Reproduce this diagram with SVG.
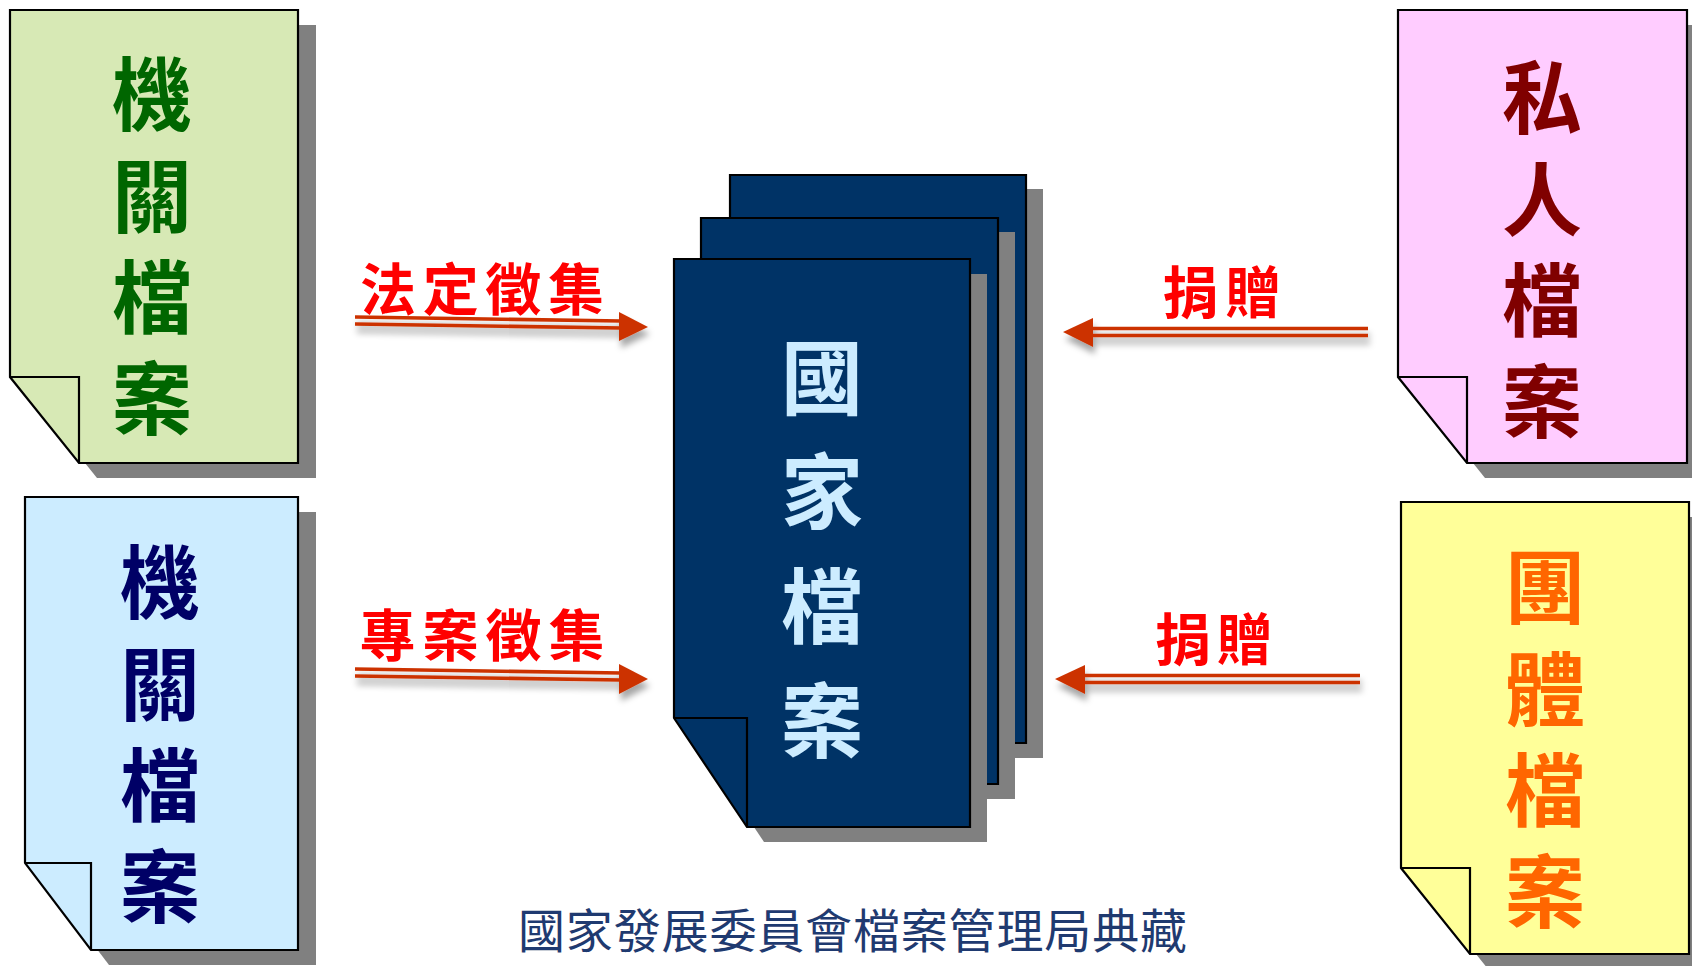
<svg xmlns="http://www.w3.org/2000/svg" width="1692" height="966" viewBox="0 0 1692 966">
<defs>
<filter id="ash" x="-10%" y="-50%" width="120%" height="250%">
<feDropShadow dx="2" dy="7" stdDeviation="3" flood-color="#000" flood-opacity="0.35"/>
</filter>
<style>
.page{stroke:#000;stroke-width:2.2;stroke-linejoin:miter}
.flap{fill:none;stroke:#000;stroke-width:2.2}
.shadow{fill:#808080}
.big{font-family:"Noto Sans CJK TC","Noto Sans CJK SC",sans-serif;font-weight:700;font-size:80px;writing-mode:vertical-rl;text-anchor:start;dominant-baseline:central;letter-spacing:21.3px}
.lbl{font-family:"Noto Sans CJK TC","Noto Sans CJK SC",sans-serif;font-weight:700;font-size:56px;fill:#FF0000;text-anchor:middle;dominant-baseline:central}
.line{stroke:#CC3300;stroke-width:3.6;fill:none}
.head{fill:#CC3300}
.cap{font-family:"Noto Sans CJK TC","Noto Sans CJK SC",sans-serif;font-size:47px;fill:#1F3A70;dominant-baseline:central}
</style>
</defs>
<rect width="1692" height="966" fill="#fff"/>

<!-- top-left node -->
<g id="node-gov-archives-green">
<path class="shadow" d="M28,25 L316,25 L316,478 L97,478 L28,392 Z"/>
<path class="page" fill="#D7E9B5" d="M10,10 L298,10 L298,463 L79,463 L10,377 Z"/>
<path class="flap" d="M10,377 L79,377 L79,463"/>
<text class="big" fill="#006600" x="152" y="54">機關檔案</text>
</g>

<!-- bottom-left node -->
<g id="node-gov-archives-blue">
<path class="shadow" d="M43,512 L316,512 L316,965 L109,965 L43,878 Z"/>
<path class="page" fill="#CCECFF" d="M25,497 L298,497 L298,950 L91,950 L25,863 Z"/>
<path class="flap" d="M25,863 L91,863 L91,950"/>
<text class="big" fill="#000066" x="160" y="542">機關檔案</text>
</g>

<!-- top-right node -->
<g id="node-private-archives">
<path class="shadow" d="M1416,25 L1705,25 L1705,478 L1485,478 L1416,392 Z"/>
<path class="page" fill="#FFCCFF" d="M1398,10 L1687,10 L1687,463 L1467,463 L1398,377 Z"/>
<path class="flap" d="M1398,377 L1467,377 L1467,463"/>
<text class="big" fill="#800000" x="1542" y="57">私人檔案</text>
</g>

<!-- bottom-right node -->
<g id="node-group-archives">
<path class="shadow" d="M1419,517 L1707,517 L1707,969 L1488,969 L1419,883 Z"/>
<path class="page" fill="#FFFF99" d="M1401,502 L1689,502 L1689,954 L1470,954 L1401,868 Z"/>
<path class="flap" d="M1401,868 L1470,868 L1470,954"/>
<text class="big" fill="#FF6600" x="1545" y="547">團體檔案</text>
</g>

<!-- center stack -->
<g id="node-national-archives">
<path class="shadow" d="M747,189 L1043,189 L1043,758 L820,758 L747,649 Z"/>
<path class="page" fill="#003366" d="M730,175 L1026,175 L1026,743 L803,743 L730,634 Z"/>
<path class="shadow" d="M718,232 L1015,232 L1015,799 L791,799 L718,690 Z"/>
<path class="page" fill="#003366" d="M701,218 L998,218 L998,784 L774,784 L701,675 Z"/>
<path class="shadow" d="M691,274 L987,274 L987,842 L764,842 L691,733 Z"/>
<path class="page" fill="#003366" d="M674,259 L970,259 L970,827 L747,827 L674,718 Z"/>
<path class="flap" d="M674,718 L747,718 L747,827"/>
<text class="big" fill="#CCECFF" style="font-size:82px;letter-spacing:32.3px" x="822" y="336">國家檔案</text>
</g>

<!-- connectors -->
<g id="connectors">
<g id="arrow-legal" filter="url(#ash)">
<path class="line" d="M355,317 L621,321 M355,324 L621,328"/>
<polygon class="head" points="619,312 648,327 619,341"/>
</g>
<text class="lbl" x="482" y="285" textLength="244" lengthAdjust="spacing">法定徵集</text>

<g id="arrow-project" filter="url(#ash)">
<path class="line" d="M355,669 L621,673 M355,676 L621,680"/>
<polygon class="head" points="619,664 648,679 619,694"/>
</g>
<text class="lbl" x="482" y="631" textLength="245" lengthAdjust="spacing">專案徵集</text>

<g id="arrow-donate-1" filter="url(#ash)">
<path class="line" d="M1091,328.5 L1368,328.5 M1091,335.5 L1368,335.5"/>
<polygon class="head" points="1093,318 1063,332 1093,347"/>
</g>
<text class="lbl" x="1222" y="288" textLength="119" lengthAdjust="spacing">捐贈</text>

<g id="arrow-donate-2" filter="url(#ash)">
<path class="line" d="M1083,675.5 L1360,675.5 M1083,682.5 L1360,682.5"/>
<polygon class="head" points="1085,665 1055,679 1085,694"/>
</g>
<text class="lbl" x="1214" y="635" textLength="118" lengthAdjust="spacing">捐贈</text>
</g>

<text class="cap" x="518" y="927" textLength="669" lengthAdjust="spacing">國家發展委員會檔案管理局典藏</text>
</svg>
